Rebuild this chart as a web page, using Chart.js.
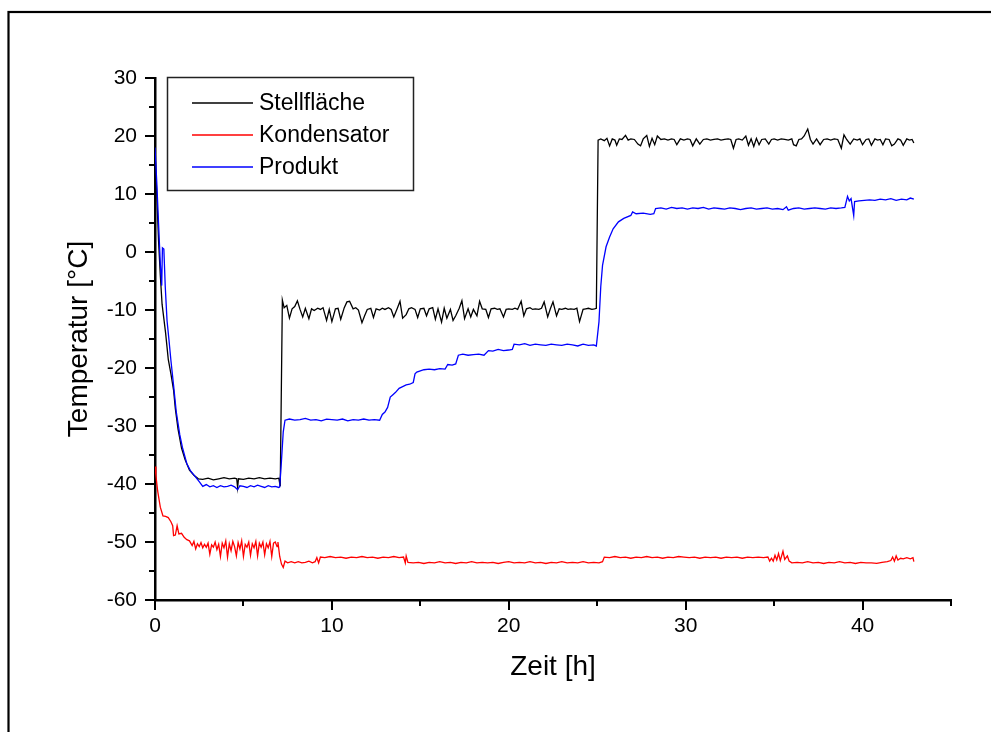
<!DOCTYPE html>
<html>
<head>
<meta charset="utf-8">
<script src="https://cdn.jsdelivr.net/npm/chart.js@4.4.1/dist/chart.umd.min.js"></script>
<style>
  html, body { margin: 0; padding: 0; background: #fff; }
  #wrap { width: 991px; height: 732px; }
</style>
</head>
<body>
<div id="wrap"><canvas id="chart" width="991" height="732"></canvas></div>
<script>
// Zeit [h] / Temperatur [°C]
const stellTime = [
  0, 0.1, 0.2, 0.3, 0.4, 0.5, 0.6, 0.75, 0.9, 1.05,
  1.15, 1.3, 1.5, 1.7, 1.95, 2.2, 2.45, 2.7, 3.0, 3.3,
  3.6, 3.9, 4.2, 4.5, 4.62, 4.67, 4.72, 5.0, 5.3, 5.6,
  5.9, 6.2, 6.5, 6.8, 7.0, 7.08, 7.2, 7.3, 7.45, 7.6,
  7.75, 7.9, 8.05, 8.2, 8.35, 8.5, 8.7, 8.85, 9.0, 9.2,
  9.35, 9.5, 9.7, 9.85, 10.0, 10.2, 10.35, 10.5, 10.7, 10.85,
  11.0, 11.2, 11.35, 11.5, 11.7, 11.85, 12.0, 12.2, 12.35, 12.5,
  12.7, 12.85, 13.0, 13.2, 13.35, 13.5, 13.7, 13.85, 14.0, 14.2,
  14.35, 14.5, 14.7, 14.85, 15.0, 15.2, 15.35, 15.5, 15.7, 15.85,
  16.0, 16.2, 16.35, 16.5, 16.7, 16.85, 17.0, 17.2, 17.35, 17.5,
  17.7, 17.85, 18.0, 18.2, 18.35, 18.5, 18.7, 18.85, 19.0, 19.2,
  19.35, 19.5, 19.7, 19.85, 20.0, 20.2, 20.35, 20.5, 20.7, 20.85,
  21.0, 21.2, 21.35, 21.5, 21.7, 21.85, 22.0, 22.2, 22.35, 22.5,
  22.7, 22.85, 23.0, 23.2, 23.35, 23.5, 23.7, 23.85, 24.0, 24.2,
  24.35, 24.5, 24.7, 24.85, 24.95, 25.05, 25.2, 25.4, 25.55, 25.7,
  25.85, 26.0, 26.1, 26.25, 26.4, 26.6, 26.75, 26.9, 27.1, 27.3,
  27.45, 27.6, 27.8, 27.95, 28.1, 28.25, 28.4, 28.6, 28.8, 29.0,
  29.2, 29.35, 29.5, 29.7, 29.9, 30.1, 30.25, 30.4, 30.6, 30.8,
  31.0, 31.2, 31.4, 31.6, 31.8, 32.0, 32.2, 32.4, 32.55, 32.7,
  32.85, 33.0, 33.2, 33.4, 33.55, 33.7, 33.85, 34.0, 34.15, 34.3,
  34.5, 34.7, 34.85, 35.0, 35.2, 35.4, 35.6, 35.8, 36.0, 36.1,
  36.25, 36.4, 36.55, 36.7, 36.9, 37.05, 37.2, 37.4, 37.6, 37.8,
  38.0, 38.2, 38.4, 38.6, 38.8, 38.95, 39.1, 39.3, 39.5, 39.7,
  39.85, 40.0, 40.2, 40.35, 40.5, 40.7, 40.85, 41.0, 41.15, 41.3,
  41.5, 41.65, 41.8, 42.0, 42.15, 42.3, 42.5, 42.65, 42.8, 42.9
];
const stellTemp = [
  17, 10, 2, -4, -9, -11.5, -14, -18.5, -21, -23.8,
  -27, -30.5, -33.8, -35.8, -37.6, -38.5, -39.1, -39.2, -39.0, -39.3,
  -39.1, -38.9, -39.1, -39.0, -39.1, -40.6, -39.1, -39.2, -39.0, -39.1,
  -38.9, -39.1, -39.0, -39.1, -39.0, -40.4, -8.3, -9.6, -9.2, -11.4,
  -9.8, -9.4, -8.4, -9.9, -11.2, -9.7, -11.5, -9.8, -10.1, -9.7,
  -9.9, -9.6, -11.8, -9.9, -12.0, -9.8, -9.7, -11.6, -9.6, -8.6,
  -8.5, -9.8, -9.6, -10.0, -12.2, -11.0, -9.9, -9.7, -11.3, -9.8,
  -10.0, -9.7, -9.9, -9.6, -9.9, -11.2, -9.7, -8.5, -11.4, -10.8,
  -9.8, -9.6, -9.9, -11.3, -9.8, -9.7, -11.0, -9.8, -9.6, -11.6,
  -9.8, -12.1, -9.7, -11.4, -9.9, -11.8, -11.0, -9.7, -8.4, -11.5,
  -9.8, -11.2, -9.9, -11.0, -8.5, -9.8, -9.9, -11.3, -9.8, -9.7,
  -9.9, -9.8, -11.2, -9.9, -9.8, -9.9, -9.7, -9.9, -8.5, -11.0,
  -9.8, -9.6, -9.9, -9.8, -9.9, -9.7, -8.6, -11.2, -9.8, -8.6,
  -11.0, -9.8, -9.9, -9.7, -9.9, -9.8, -9.9, -9.7, -12.0, -9.9,
  -9.8, -9.7, -9.9, -9.8, -9.7, 19.3, 19.5, 19.2, 19.6, 18.3,
  19.5, 19.3, 18.4, 19.5, 19.4, 20.1, 19.3, 19.5, 19.4, 18.6,
  18.3, 19.5, 20.1, 18.2, 19.6, 18.5, 20.0, 19.4, 19.5, 19.3,
  19.5, 19.4, 18.5, 19.5, 19.3, 19.5, 19.4, 18.3, 19.5, 18.6,
  19.4, 19.5, 19.3, 19.4, 19.5, 19.3, 19.4, 19.5, 19.4, 17.9,
  19.4, 19.5, 19.3, 20.0, 18.4, 19.5, 18.2, 19.6, 18.5, 19.4,
  19.5, 18.6, 19.4, 19.5, 19.3, 19.5, 19.4, 19.3, 19.5, 18.5,
  18.3, 19.4, 19.5, 20.0, 21.2, 19.4, 18.6, 19.5, 18.5, 19.4,
  19.5, 19.3, 19.5, 19.4, 17.9, 20.2, 19.4, 18.6, 19.5, 19.3,
  19.5, 18.5, 19.4, 19.5, 18.4, 19.5, 19.3, 19.4, 18.5, 19.5,
  19.4, 18.3, 18.6, 19.5, 19.3, 18.4, 19.5, 19.3, 19.4, 18.8
];

const kondTime = [
  0, 0.05, 0.15, 0.3, 0.45, 0.6, 0.75, 0.9, 1.0, 1.05,
  1.15, 1.25, 1.35, 1.5, 1.65, 1.8, 1.95, 2.1, 2.2, 2.3,
  2.4, 2.5, 2.6, 2.7, 2.8, 2.9, 3.0, 3.1, 3.2, 3.3,
  3.4, 3.5, 3.6, 3.7, 3.8, 3.9, 4.0, 4.1, 4.2, 4.3,
  4.4, 4.5, 4.6, 4.7, 4.8, 4.9, 5.0, 5.1, 5.2, 5.3,
  5.4, 5.5, 5.6, 5.7, 5.8, 5.9, 6.0, 6.1, 6.2, 6.3,
  6.4, 6.5, 6.6, 6.7, 6.8, 6.9, 6.95, 7.05, 7.15, 7.25,
  7.35, 7.5, 7.7, 7.9, 8.1, 8.3, 8.5, 8.7, 8.9, 9.05,
  9.15, 9.25, 9.35, 9.6, 9.9, 10.2, 10.5, 10.8, 11.1, 11.4,
  11.7, 12.0, 12.3, 12.6, 12.9, 13.2, 13.5, 13.8, 14.05, 14.15,
  14.2, 14.3, 14.6, 14.9, 15.2, 15.5, 15.8, 16.1, 16.4, 16.7,
  17.0, 17.3, 17.6, 17.9, 18.2, 18.5, 18.8, 19.1, 19.4, 19.7,
  20.0, 20.3, 20.6, 20.9, 21.2, 21.5, 21.8, 22.1, 22.4, 22.7,
  23.0, 23.3, 23.6, 23.9, 24.2, 24.5, 24.8, 25.1, 25.3, 25.4,
  25.7, 26.0, 26.3, 26.6, 26.9, 27.2, 27.5, 27.8, 28.1, 28.4,
  28.7, 29.0, 29.3, 29.6, 29.9, 30.2, 30.5, 30.8, 31.1, 31.4,
  31.7, 32.0, 32.3, 32.6, 32.9, 33.2, 33.5, 33.8, 34.1, 34.4,
  34.65, 34.75, 34.85, 34.95, 35.05, 35.15, 35.25, 35.35, 35.5, 35.6,
  35.75, 35.85, 36.0, 36.3, 36.6, 36.9, 37.2, 37.5, 37.8, 38.1,
  38.4, 38.7, 39.0, 39.3, 39.6, 39.9, 40.2, 40.5, 40.8, 41.1,
  41.4, 41.6, 41.7, 41.8, 41.9, 42.0, 42.15, 42.3, 42.5, 42.7,
  42.85, 42.9
];
const kondTemp = [
  -37.0, -38.5, -41.2, -44, -45.5, -45.6, -45.8, -46.5, -47.2, -48.9,
  -48.8, -47.2, -48.6, -48.5, -49.2, -49.6, -49.8, -50.6, -49.9, -51.2,
  -50.3, -50.8, -50.1, -51.0, -50.4, -50.9, -50.2, -52.1, -50.5, -50.9,
  -50.0, -51.3, -50.4, -52.5, -50.2, -51.0, -49.8, -52.6, -50.3, -51.5,
  -49.9, -50.8, -52.4, -50.1, -51.2, -49.8, -52.5, -50.4, -50.9, -50.0,
  -52.3, -50.3, -51.0, -49.9, -52.4, -50.2, -50.9, -50.0, -52.2, -50.3,
  -51.0, -49.9, -52.5, -50.2, -50.0, -50.8, -50.0, -52.5, -53.8, -54.4,
  -53.3, -53.6, -53.4, -53.6, -53.4, -53.6, -53.5, -53.3, -53.6, -53.4,
  -52.7, -53.6, -52.6, -52.7, -52.5, -52.7, -52.6, -52.8, -52.6, -52.7,
  -52.5, -52.7, -52.6, -52.8, -52.6, -52.7, -52.5, -52.7, -52.6, -53.6,
  -52.4, -53.5, -53.6, -53.5, -53.7, -53.5, -53.6, -53.4, -53.6, -53.5,
  -53.7, -53.5, -53.6, -53.4, -53.6, -53.5, -53.6, -53.5, -53.7, -53.5,
  -53.4, -53.6, -53.5, -53.6, -53.4, -53.6, -53.5, -53.7, -53.5, -53.6,
  -53.4, -53.6, -53.5, -53.6, -53.4, -53.6, -53.5, -53.6, -53.4, -52.6,
  -52.7, -52.5, -52.7, -52.6, -52.8, -52.6, -52.7, -52.5, -52.7, -52.6,
  -52.8, -52.6, -52.7, -52.5, -52.6, -52.7, -52.6, -52.8, -52.6, -52.7,
  -52.6, -52.8, -52.6, -52.7, -52.6, -52.8, -52.6, -52.7, -52.6, -52.7,
  -52.6, -53.3, -52.8, -53.3, -52.3, -53.1, -52.0, -53.2, -51.6, -53.0,
  -52.4, -53.3, -53.6, -53.5, -53.6, -53.4, -53.6, -53.5, -53.7, -53.5,
  -53.6, -53.4, -53.6, -53.5, -53.7, -53.5, -53.6, -53.6, -53.7, -53.5,
  -53.4, -53.2, -52.6, -53.3, -52.4, -53.1, -52.8, -52.9, -52.7, -52.9,
  -52.7, -53.4
];

const prodTime = [
  0, 0.1, 0.2, 0.3, 0.38, 0.42, 0.5, 0.58, 0.68, 0.8,
  0.9, 1.05, 1.2, 1.4, 1.55, 1.8, 2.0, 2.3, 2.5, 2.7,
  2.9, 3.1, 3.3, 3.5, 3.7, 3.9, 4.1, 4.3, 4.5, 4.67,
  4.8, 5.0, 5.2, 5.4, 5.6, 5.8, 6.0, 6.2, 6.4, 6.6,
  6.8, 7.0, 7.05, 7.15, 7.25, 7.35, 7.6, 7.9, 8.2, 8.5,
  8.8, 9.1, 9.4, 9.7, 10.0, 10.3, 10.6, 10.9, 11.2, 11.5,
  11.8, 12.1, 12.4, 12.7, 12.85, 13.0, 13.15, 13.3, 13.45, 13.6,
  13.8, 14.0, 14.2, 14.4, 14.6, 14.7, 14.8, 15.0, 15.2, 15.5,
  15.8, 16.1, 16.4, 16.55, 16.8, 17.0, 17.15, 17.4, 17.7, 18.0,
  18.3, 18.6, 18.85, 19.1, 19.4, 19.7, 20.0, 20.2, 20.3, 20.6,
  20.9, 21.2, 21.5, 21.8, 22.1, 22.4, 22.7, 23.0, 23.3, 23.6,
  23.9, 24.2, 24.5, 24.8, 24.95, 25.1, 25.2, 25.3, 25.5, 25.7,
  25.9, 26.2, 26.5, 26.9, 27.0, 27.2, 27.6, 28.0, 28.2, 28.3,
  28.6, 28.9, 29.2, 29.5, 29.8, 30.1, 30.4, 30.7, 31.0, 31.3,
  31.6, 31.9, 32.2, 32.5, 32.8, 33.1, 33.4, 33.7, 34.0, 34.3,
  34.6, 34.9, 35.2, 35.5, 35.7, 35.8, 36.1, 36.4, 36.7, 37.0,
  37.3, 37.6, 37.9, 38.2, 38.5, 38.8, 39.0, 39.15, 39.25, 39.35,
  39.5, 39.55, 39.8, 40.1, 40.4, 40.7, 41.0, 41.3, 41.6, 41.9,
  42.2, 42.5, 42.7, 42.9
];
const prodTemp = [
  18, 12, 5, -2, -5.8, 0.7, 0.5, -6, -11.8, -15.5,
  -18.7, -23, -27.5, -31.5, -33.7, -36.5, -37.7, -38.8, -39.6, -40.4,
  -40.1, -40.5, -40.3, -40.6, -40.3, -40.5, -40.4, -40.2, -40.5, -41.0,
  -40.3, -40.4, -40.6, -40.3, -40.5, -40.2, -40.4, -40.6, -40.3, -40.5,
  -40.4, -40.6, -40.5, -36, -31, -29.0, -28.8, -29.0, -28.9, -28.7,
  -29.0, -28.9, -29.1, -28.8, -28.9, -29.0, -28.8, -29.1, -28.9, -29.0,
  -28.8, -29.0, -28.9, -29.0, -28.0, -27.6, -26.8, -25.0, -24.6, -24.2,
  -23.5, -23.2, -22.9, -22.8, -22.5, -21.0, -20.7, -20.5, -20.3, -20.2,
  -20.3, -20.1, -20.2, -19.4, -19.5, -19.3, -17.8, -17.6, -17.8, -17.7,
  -17.6, -17.8, -17.0, -17.1, -16.8, -17.0, -16.9, -16.8, -15.9, -16.0,
  -15.8, -16.1, -15.9, -16.0, -16.1, -15.9, -16.0, -16.1, -15.9, -16.0,
  -16.2, -15.9, -16.1, -16.0, -16.2, -12, -6, -2.3, 0.9, 2.6,
  4.0, 5.2, 5.8, 6.3, 6.9, 6.6, 6.7, 6.5, 6.6, 7.5,
  7.6, 7.4, 7.7, 7.5, 7.6, 7.4, 7.6, 7.5, 7.7, 7.4,
  7.6, 7.5, 7.4, 7.6, 7.5, 7.3, 7.5, 7.6, 7.4, 7.5,
  7.6, 7.4, 7.5, 7.3, 7.8, 7.2, 7.5, 7.6, 7.4, 7.5,
  7.6, 7.5, 7.4, 7.6, 7.5, 7.6, 7.7, 9.6, 8.8, 9.2,
  6.3, 8.7, 8.8, 8.9, 9.0, 8.9, 9.1, 9.0, 9.2, 8.9,
  9.1, 9.0, 9.3, 9.1
];

const xTicks = [0, 10, 20, 30, 40];
const yTicks = [-60, -50, -40, -30, -20, -10, 0, 10, 20, 30];

const FONT = '"Liberation Sans", Arial, sans-serif';

function toPoints(ts, vs) {
  return ts.map((t, i) => ({ x: t, y: vs[i] }));
}

// Rahmen um die ganze Grafik
const framePlugin = {
  id: 'frame',
  beforeDraw(chart) {
    const c = chart.ctx;
    c.save();
    c.fillStyle = '#fff';
    c.fillRect(0, 0, chart.width, chart.height);
    c.strokeStyle = '#000';
    c.lineWidth = 2.2;
    c.strokeRect(8.5, 12, 1100, 900);
    c.restore();
  }
};

// Haupt- und Hilfsstriche nach aussen, wie in Origin
const tickPlugin = {
  id: 'ticks',
  afterDraw(chart) {
    const c = chart.ctx;
    const xs = chart.scales.x, ys = chart.scales.y;
    const a = chart.chartArea;
    c.save();
    c.strokeStyle = '#000';
    c.lineWidth = 2;
    c.beginPath();
    for (let v = 0; v <= 45; v += 5) {
      const px = Math.round(xs.getPixelForValue(v));
      const len = v % 10 === 0 ? 10 : 6;
      c.moveTo(px, a.bottom);
      c.lineTo(px, a.bottom + len);
    }
    for (let v = -60; v <= 30; v += 5) {
      const py = Math.round(ys.getPixelForValue(v));
      const len = v % 10 === 0 ? 10 : 6;
      c.moveTo(a.left - len, py);
      c.lineTo(a.left, py);
    }
    c.stroke();
    c.restore();
  }
};

// Legende mit Kasten oben links im Diagramm
const legendBox = {
  id: 'legendBox',
  afterDraw(chart) {
    const c = chart.ctx;
    c.save();
    c.strokeStyle = '#222';
    c.lineWidth = 1.5;
    c.strokeRect(167.5, 77.5, 246, 113);
    c.font = '23px ' + FONT;
    c.textBaseline = 'middle';
    c.fillStyle = '#000';
    chart.data.datasets.forEach((ds, i) => {
      const y = 103 + i * 32;
      c.strokeStyle = ds.borderColor;
      c.lineWidth = 1.3;
      c.beginPath();
      c.moveTo(192, y);
      c.lineTo(253, y);
      c.stroke();
      c.fillText(ds.label, 259, y + 1);
    });
    c.restore();
  }
};

new Chart(document.getElementById('chart').getContext('2d'), {
  type: 'line',
  data: {
    datasets: [
      { label: 'Stellfläche', data: toPoints(stellTime, stellTemp), borderColor: '#000000', order: 2 },
      { label: 'Kondensator', data: toPoints(kondTime, kondTemp), borderColor: '#ff0000', order: 1 },
      { label: 'Produkt', data: toPoints(prodTime, prodTemp), borderColor: '#0000ff', order: 0 }
    ]
  },
  options: {
    responsive: false,
    animation: false,
    layout: { padding: { top: 78, right: 40, left: 0, bottom: 0 } },
    elements: {
      line: { borderWidth: 1.3, tension: 0, fill: false },
      point: { radius: 0 }
    },
    plugins: {
      legend: { display: false },
      tooltip: { enabled: false }
    },
    scales: {
      x: {
        type: 'linear',
        min: 0,
        max: 45,
        afterFit: s => { s.height = 132; },
        afterBuildTicks: s => { s.ticks = xTicks.map(v => ({ value: v })); },
        grid: { display: true, drawOnChartArea: false, drawTicks: false },
        border: { display: true, color: '#000', width: 2.5 },
        ticks: { color: '#000', padding: 14, font: { family: FONT, size: 21 } },
        title: {
          display: true,
          text: 'Zeit [h]',
          color: '#000',
          font: { family: FONT, size: 28 },
          padding: { top: 0, bottom: 48 }
        }
      },
      y: {
        type: 'linear',
        min: -60,
        max: 30,
        afterFit: s => { s.width = 155; },
        afterBuildTicks: s => { s.ticks = yTicks.map(v => ({ value: v })); },
        grid: { display: true, drawOnChartArea: false, drawTicks: false },
        border: { display: true, color: '#000', width: 2.5 },
        ticks: { color: '#000', padding: 18, font: { family: FONT, size: 21 } },
        title: {
          display: true,
          text: 'Temperatur [°C]',
          color: '#000',
          font: { family: FONT, size: 28 },
          padding: { top: 62, bottom: 0 }
        }
      }
    }
  },
  plugins: [framePlugin, tickPlugin, legendBox]
});
</script>
</body>
</html>
